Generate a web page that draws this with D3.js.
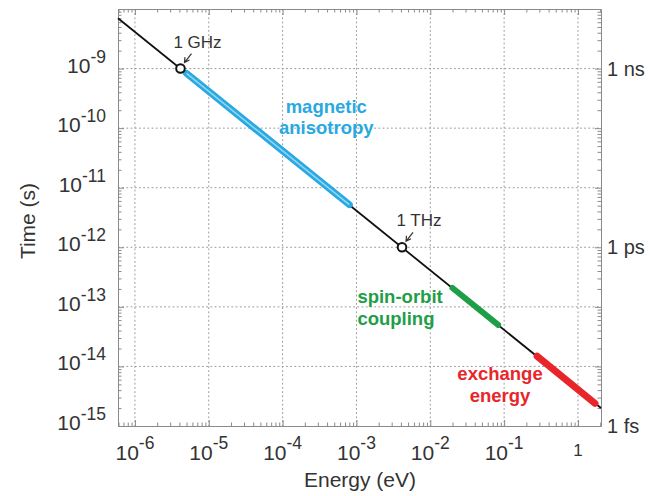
<!DOCTYPE html>
<html>
<head>
<meta charset="utf-8">
<script src="https://cdn.jsdelivr.net/npm/d3@7"></script>
<style>
  body { margin: 0; background: #fff; }
  svg { display: block; font-family: "Liberation Sans", Arial, sans-serif; }
</style>
</head>
<body>
<svg id="chart" width="652" height="496"></svg>
<script>
// values
const energyDomain = [5.9e-7, 2.05];
const timeDomain = [1e-15, 1e-8];

const lineEnergy = [5.9e-7, 2.05];
const lineTime = [7.0e-9, 2.0e-15];

const markerEnergy = [4.14e-6, 4.14e-3];
const markerTime = [1e-9, 1e-12];
const markerLabels = ['1 GHz', '1 THz'];

const bandNames = [['magnetic', 'anisotropy'], ['spin-orbit', 'coupling'], ['exchange', 'energy']];
const bandEnergyStart = [5.0e-6, 0.02, 0.28];
const bandEnergyEnd = [8.0e-4, 0.083, 1.7];
const bandTimeStart = [8.3e-10, 2.07e-13, 1.48e-14];
const bandTimeEnd = [5.2e-12, 5.0e-14, 2.4e-15];
const bandLabelEnergy = [3.9e-4, 1.03e-3, 0.088];
const bandLabelTime = [1.8e-10, 1.16e-13, 5.9e-15];

const xTickValues = [1e-6, 1e-5, 1e-4, 1e-3, 1e-2, 1e-1, 1];
const xTickExp = ['-6', '-5', '-4', '-3', '-2', '-1', null];
const yTickValues = [1e-9, 1e-10, 1e-11, 1e-12, 1e-13, 1e-14, 1e-15];
const yTickExp = ['-9', '-10', '-11', '-12', '-13', '-14', '-15'];
const rightTickValues = [1e-9, 1e-12, 1e-15];
const rightTickLabels = ['1 ns', '1 ps', '1 fs'];

function drawChart() {
  const svg = d3.select('#chart');
  const plot = {left: 118, right: 601, top: 9, bottom: 426};
  const bandColors = ['#29a9e1', '#1f9e48', '#e8262a'];
  const bandWidths = [7, 6, 7];
  const labelAnchor = ['middle', 'start', 'middle'];

  const x = d3.scaleLog().domain(energyDomain).range([plot.left, plot.right]);
  const y = d3.scaleLog().domain(timeDomain).range([plot.bottom, plot.top]);

  const isDecade = d => Math.abs(Math.log10(d) - Math.round(Math.log10(d))) < 1e-6;

  // dotted grid
  svg.append('g')
    .selectAll('line.gx')
    .data(xTickValues)
    .join('line')
      .attr('x1', d => x(d)).attr('x2', d => x(d))
      .attr('y1', plot.top).attr('y2', plot.bottom)
      .attr('stroke', '#999').attr('stroke-dasharray', '1.8,2.4');
  svg.append('g')
    .selectAll('line.gy')
    .data(yTickValues.filter(d => d > timeDomain[0]))
    .join('line')
      .attr('y1', d => y(d)).attr('y2', d => y(d))
      .attr('x1', plot.left).attr('x2', plot.right)
      .attr('stroke', '#999').attr('stroke-dasharray', '1.8,2.4');

  // frame with inward ticks on every side
  const frameColor = '#8a8a8a';
  const tick = d => isDecade(d) ? 6 : 3.5;
  svg.append('g')
    .attr('transform', `translate(0, ${plot.bottom})`)
    .call(d3.axisBottom(x).ticks(20).tickSizeInner(0).tickSizeOuter(0).tickFormat(''))
    .call(g => g.selectAll('.tick line').attr('y2', d => -tick(d)));
  svg.append('g')
    .attr('transform', `translate(0, ${plot.top})`)
    .call(d3.axisTop(x).ticks(20).tickSizeInner(0).tickSizeOuter(0).tickFormat(''))
    .call(g => g.selectAll('.tick line').attr('y2', d => tick(d)));
  svg.append('g')
    .attr('transform', `translate(${plot.left}, 0)`)
    .call(d3.axisLeft(y).ticks(20).tickSizeInner(0).tickSizeOuter(0).tickFormat(''))
    .call(g => g.selectAll('.tick line').attr('x2', d => tick(d)));
  svg.append('g')
    .attr('transform', `translate(${plot.right}, 0)`)
    .call(d3.axisRight(y).ticks(20).tickSizeInner(0).tickSizeOuter(0).tickFormat(''))
    .call(g => g.selectAll('.tick line').attr('x2', d => -tick(d)));
  svg.selectAll('.domain').attr('stroke', frameColor);
  svg.selectAll('.tick line').attr('stroke', frameColor);

  // h/E line
  const line = d3.line().x(d => x(d[0])).y(d => y(d[1]));
  svg.append('path')
    .attr('d', line(d3.zip(lineEnergy, lineTime)))
    .attr('fill', 'none').attr('stroke', '#111').attr('stroke-width', 1.8);

  // coloured ranges
  const bands = bandNames.map((name, i) => ({
    name, i,
    pts: [[bandEnergyStart[i], bandTimeStart[i]], [bandEnergyEnd[i], bandTimeEnd[i]]]
  }));
  svg.selectAll('path.band')
    .data(bands)
    .join('path')
      .attr('class', 'band')
      .attr('d', d => line(d.pts))
      .attr('fill', 'none')
      .attr('stroke', d => bandColors[d.i])
      .attr('stroke-width', d => bandWidths[d.i])
      .attr('stroke-linecap', 'round');
  svg.append('path')
    .attr('d', line(bands[0].pts))
    .attr('fill', 'none').attr('stroke', '#93d6f2').attr('stroke-width', 1.6);

  svg.selectAll('text.band')
    .data(bands)
    .join('text')
      .attr('class', 'band')
      .attr('x', d => x(bandLabelEnergy[d.i]))
      .attr('y', d => y(bandLabelTime[d.i]))
      .attr('text-anchor', d => labelAnchor[d.i])
      .attr('fill', d => bandColors[d.i])
      .attr('font-size', 18.5).attr('font-weight', 'bold')
    .selectAll('tspan')
    .data(d => d.name)
    .join('tspan')
      .attr('x', function() { return this.parentNode.getAttribute('x'); })
      .attr('dy', (d, j) => j ? 21.5 : 0)
      .text(d => d);

  // GHz / THz markers with arrows
  const markers = markerLabels.map((label, i) => ({label, cx: x(markerEnergy[i]), cy: y(markerTime[i])}));
  svg.selectAll('circle.mark')
    .data(markers)
    .join('circle')
      .attr('cx', d => d.cx).attr('cy', d => d.cy).attr('r', 4.3)
      .attr('fill', '#fff').attr('stroke', '#111').attr('stroke-width', 2);
  svg.selectAll('path.arrow')
    .data(markers)
    .join('path')
      .attr('d', d => {
        const x0 = d.cx + 11, y0 = d.cy - 15, x1 = d.cx + 4, y1 = d.cy - 6;
        return `M${x0},${y0}L${x1},${y1}M${x1 + 0.5},${y1 - 5.5}L${x1},${y1}L${x1 + 5},${y1 - 2.5}`;
      })
      .attr('fill', 'none').attr('stroke', '#333').attr('stroke-width', 1.2);
  svg.selectAll('text.mark')
    .data(markers)
    .join('text')
      .attr('x', d => d.cx + 17).attr('y', d => d.cy - 21)
      .attr('text-anchor', 'middle').attr('font-size', 17).attr('fill', '#333')
      .text(d => d.label);

  // tick labels
  const ink = '#333';
  svg.selectAll('text.ylab')
    .data(yTickValues)
    .join('text')
      .attr('x', 106).attr('y', d => y(d) + 4)
      .attr('text-anchor', 'end').attr('fill', ink).attr('font-size', 21)
      .call(t => t.append('tspan').text('10'))
      .call(t => t.append('tspan').attr('dy', -10).attr('font-size', 17.5).text((d, i) => yTickExp[i]));

  svg.selectAll('text.xlab')
    .data(xTickValues)
    .join('text')
      .attr('x', d => x(d)).attr('y', 460)
      .attr('text-anchor', 'middle').attr('fill', ink).attr('font-size', 21)
      .each(function(d, i) {
        const t = d3.select(this);
        if (xTickExp[i] === null) {
          t.attr('y', 456).attr('font-size', 17).text('1');
        } else {
          t.append('tspan').text('10');
          t.append('tspan').attr('dy', -11).attr('font-size', 17.5).text(xTickExp[i]);
        }
      });

  svg.selectAll('text.rlab')
    .data(rightTickValues)
    .join('text')
      .attr('x', 607).attr('y', d => y(d) + 7)
      .attr('fill', ink).attr('font-size', 20)
      .text((d, i) => rightTickLabels[i]);

  // axis titles
  svg.append('text')
    .attr('x', 360).attr('y', 487)
    .attr('text-anchor', 'middle').attr('fill', ink).attr('font-size', 21)
    .text('Energy (eV)');
  svg.append('text')
    .attr('transform', 'translate(35, 221) rotate(-90)')
    .attr('text-anchor', 'middle').attr('fill', ink).attr('font-size', 21)
    .text('Time (s)');
}

drawChart();
</script>
</body>
</html>
